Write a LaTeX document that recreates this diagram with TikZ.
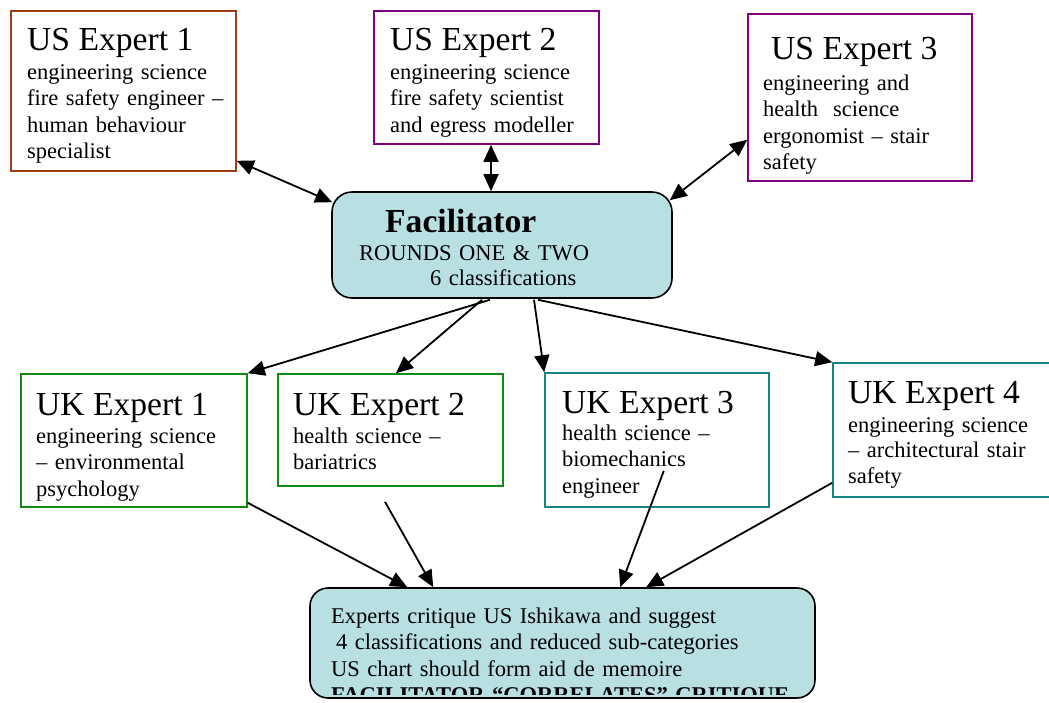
\documentclass[tikz,border=0pt]{standalone}
\usepackage{fontspec}
\setmainfont{Liberation Serif}
\usetikzlibrary{arrows.meta,calc,fit}
\definecolor{usbrown}{HTML}{9E3D12}
\definecolor{uspurple}{HTML}{800080}
\definecolor{ukgreen}{HTML}{138A13}
\definecolor{ukteal}{HTML}{138585}
\definecolor{hubfill}{HTML}{B8DFE2}
\begin{document}
\begin{tikzpicture}[x=1pt,y=-1pt,
  expert/.style={draw=#1, line width=1.6pt, fill=white, inner sep=0pt},
  hub/.style={draw=black, line width=1.6pt, fill=hubfill, rounded corners=20pt, inner sep=0pt},
  headtext/.style={anchor=base west, inner sep=0pt, font=\fontsize{33.6}{38}\selectfont},
  bodytext/.style={anchor=base west, inner sep=0pt, text width=#1, align=left,
    font=\fontsize{22.5}{26.5}\selectfont},
  bodytext/.default=260pt,
  flow/.style={line width=1.8pt, -{Triangle[length=17pt,width=15pt]}},
  twoway/.style={line width=1.8pt, {Triangle[length=17pt,width=15pt]}-{Triangle[length=17pt,width=15pt]}},
]
% canvas
\fill[white] (0,0) rectangle (1049,702);
\useasboundingbox (0,0) rectangle (1049,702);

% US experts
\node[expert=usbrown, fit={(11,11) (236,171)}] (us1) {};
\node[headtext] (us1Head) at (27,50) {US Expert 1};
\node[bodytext] (us1Body) at (27,79) {engineering science\\fire safety engineer –\\human behaviour\\specialist};

\node[expert=uspurple, fit={(374,11) (599,144)}] (us2) {};
\node[headtext] (us2Head) at (390,50) {US Expert 2};
\node[bodytext] (us2Body) at (390,79) {engineering science\\fire safety scientist\\and egress modeller};

\node[expert=uspurple, fit={(748,14) (972,181)}] (us3) {};
\node[headtext] (us3Head) at (771,59) {US Expert 3};
\node[bodytext] (us3Body) at (763,90) {engineering and\\health\ \ science\\ergonomist – stair\\safety};

% facilitator
\node[hub, fit={(332,192) (672,298)}] (fac) {};
\node[headtext, font=\fontsize{33.6}{38}\selectfont\bfseries] (facHead) at (385,232) {Facilitator};
\node[bodytext, font=\fontsize{22.5}{25}\selectfont] (facBody) at (359,260) {ROUNDS ONE \& TWO\\\hspace*{71pt}6 classifications};

% UK experts
\node[expert=ukgreen, fit={(21,374) (247,507)}] (uk1) {};
\node[headtext] (uk1Head) at (36,415) {UK Expert 1};
\node[bodytext] (uk1Body) at (36,443) {engineering science\\– environmental\\psychology};

\node[expert=ukgreen, fit={(278,374) (503,486)}] (uk2) {};
\node[headtext] (uk2Head) at (293,415) {UK Expert 2};
\node[bodytext] (uk2Body) at (293,443) {health science –\\bariatrics};

\node[expert=ukteal, fit={(545,373) (769,507)}] (uk3) {};
\node[headtext] (uk3Head) at (562,413) {UK Expert 3};
\node[bodytext] (uk3Body) at (562,440) {health science –\\biomechanics\\engineer};

\node[expert=ukteal, fit={(833,363) (1051,497)}] (uk4) {};
\node[headtext] (uk4Head) at (848,403) {UK Expert 4};
\node[bodytext, font=\fontsize{22.5}{25.5}\selectfont] (uk4Body) at (848,432) {engineering science\\– architectural stair\\safety};

% outcome box, its last line cut off by the frame
\node[hub, rounded corners=18pt, fit={(310,588) (815,698)}] (bot) {};
\begin{scope}
  \clip[rounded corners=16pt] ($(bot.north west)+(2,2)$) rectangle ($(bot.south east)+(-2,-4)$);
  \node[bodytext=480pt] (botBody) at (331,623) {Experts critique US Ishikawa and suggest\\\hspace*{5pt}4 classifications and reduced sub-categories\\US chart should form aid de memoire\\\textbf{FACILITATOR “CORRELATES” CRITIQUE}};
\end{scope}

% US experts <-> facilitator
\draw[twoway] ($(us1.south east)+(0,-11)$) -- ($(fac.north west)+(1,11)$);
\draw[twoway] ($(us2.south)+(4.5,0)$) -- ($(fac.north)+(-11,0)$);
\draw[twoway] ($(us3.south west)+(0,-42)$) -- ($(fac.north east)+(-3,9)$);

% facilitator -> UK experts
\draw[flow] ($(fac.south)+(-12,1)$) -- (uk1.north east);
\draw[flow] ($(fac.south)+(-20,1)$) -- ($(uk2.north)+(5.5,0)$);
\draw[flow] ($(fac.south)+(32,1)$) -- (uk3.north west);
\draw[flow] ($(fac.south)+(36,1)$) -- (uk4.north west);

% UK experts -> outcome
\draw[flow] ($(uk1.south east)+(0,-5)$) -- ($(bot.north west)+(98,0)$);
\draw[flow] ($(uk2.south)+(-5.5,15)$) -- ($(bot.north west)+(124,0)$);
\draw[flow] ($(uk3.south east)+(-106,-37)$) -- ($(bot.north west)+(311,0)$);
\draw[flow] ($(uk4.south west)+(0,-15)$) -- ($(bot.north west)+(337,0)$);
\end{tikzpicture}
\end{document}
